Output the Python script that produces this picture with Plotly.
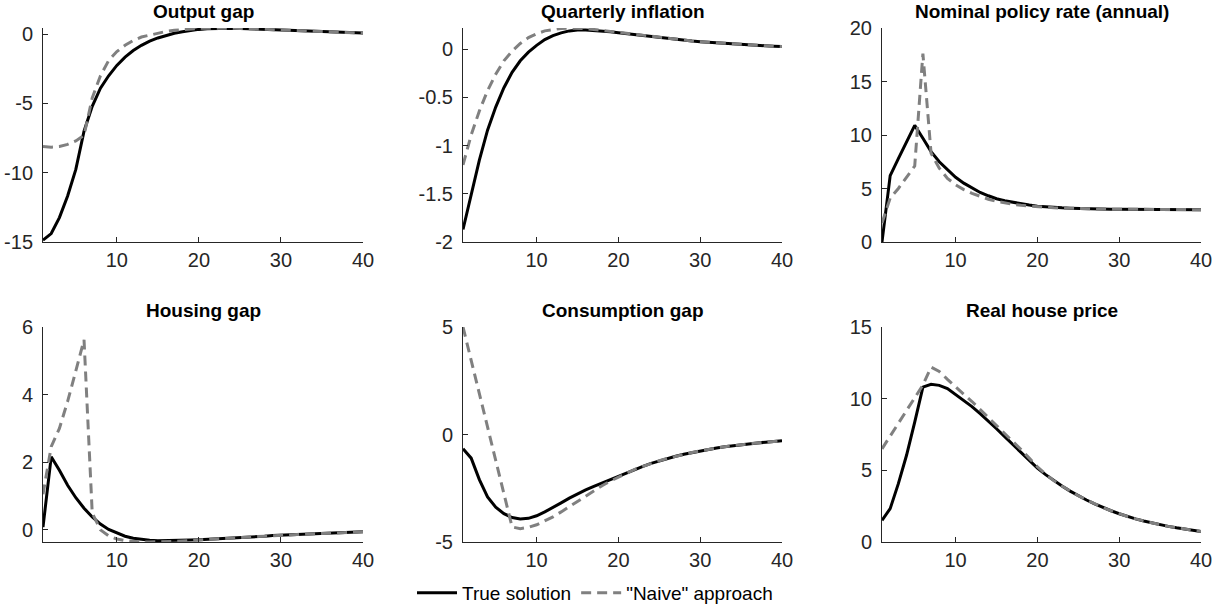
import plotly.graph_objects as go
from plotly.subplots import make_subplots

periods = list(range(1, 41))

titles = ["Output gap", "Quarterly inflation", "Nominal policy rate (annual)",
          "Housing gap", "Consumption gap", "Real house price"]

output_true = [-14.87, -14.39, -13.24, -11.68, -9.76, -7.0, -5.2, -3.9, -3.0, -2.25,
               -1.65, -1.18, -0.8, -0.5, -0.27, -0.08, 0.07, 0.18, 0.28, 0.35,
               0.40, 0.43, 0.44, 0.44, 0.42, 0.40, 0.38, 0.35, 0.33, 0.30,
               0.28, 0.25, 0.23, 0.21, 0.18, 0.16, 0.14, 0.12, 0.10, 0.08]
output_naive = [-8.1, -8.15, -8.1, -7.95, -7.7, -7.3, -4.6, -3.0, -1.9, -1.25,
                -0.8, -0.45, -0.2, -0.05, 0.1, 0.2, 0.28, 0.34, 0.39, 0.42,
                0.44, 0.45, 0.45, 0.44, 0.42, 0.40, 0.38, 0.35, 0.33, 0.30,
                0.28, 0.25, 0.23, 0.21, 0.18, 0.16, 0.14, 0.12, 0.10, 0.08]

infl_true = [-1.87, -1.51, -1.15, -0.84, -0.60, -0.40, -0.24, -0.12, -0.03, 0.04,
             0.10, 0.14, 0.17, 0.19, 0.20, 0.20, 0.195, 0.19, 0.18, 0.17,
             0.16, 0.15, 0.14, 0.13, 0.12, 0.11, 0.10, 0.093, 0.085, 0.078,
             0.072, 0.065, 0.059, 0.053, 0.048, 0.043, 0.039, 0.035, 0.031, 0.027]
infl_naive = [-1.20, -0.89, -0.64, -0.43, -0.26, -0.12, -0.02, 0.06, 0.12, 0.16,
              0.19, 0.205, 0.215, 0.22, 0.218, 0.212, 0.205, 0.195, 0.185, 0.173,
              0.16, 0.15, 0.14, 0.13, 0.12, 0.11, 0.10, 0.093, 0.085, 0.078,
              0.072, 0.065, 0.059, 0.053, 0.048, 0.043, 0.039, 0.035, 0.031, 0.027]

rate_true = [0.0, 6.2, 7.8, 9.4, 10.9, 9.7, 8.45, 7.5, 6.75, 6.05,
             5.5, 5.03, 4.63, 4.32, 4.04, 3.85, 3.7, 3.57, 3.45, 3.35,
             3.28, 3.23, 3.19, 3.16, 3.13, 3.11, 3.09, 3.08, 3.07, 3.06,
             3.05, 3.04, 3.04, 3.03, 3.03, 3.03, 3.02, 3.02, 3.02, 3.02]
rate_naive = [1.77, 4.1, 5.0, 6.0, 7.1, 17.6, 8.3, 6.9, 5.95, 5.35,
              4.9, 4.55, 4.25, 4.0, 3.8, 3.65, 3.52, 3.43, 3.36, 3.3,
              3.25, 3.2, 3.17, 3.14, 3.12, 3.1, 3.09, 3.08, 3.07, 3.06,
              3.05, 3.04, 3.04, 3.03, 3.03, 3.03, 3.02, 3.02, 3.02, 3.02]

housing_true = [0.08, 2.16, 1.76, 1.32, 0.95, 0.64, 0.38, 0.17, 0.01, -0.1,
                -0.19, -0.25, -0.29, -0.31, -0.32, -0.32, -0.32, -0.31, -0.3, -0.29,
                -0.28, -0.27, -0.26, -0.24, -0.23, -0.22, -0.2, -0.19, -0.17, -0.16,
                -0.15, -0.14, -0.13, -0.12, -0.11, -0.1, -0.09, -0.08, -0.07, -0.06]
housing_naive = [1.05, 2.46, 3.0, 3.8, 4.7, 5.62, 0.5, 0.0, -0.18, -0.27,
                 -0.32, -0.35, -0.36, -0.36, -0.36, -0.35, -0.34, -0.33, -0.31, -0.3,
                 -0.28, -0.27, -0.26, -0.24, -0.23, -0.22, -0.2, -0.19, -0.17, -0.16,
                 -0.15, -0.14, -0.13, -0.12, -0.11, -0.1, -0.09, -0.08, -0.07, -0.06]

cons_true = [-0.66, -1.1, -2.1, -2.9, -3.38, -3.68, -3.86, -3.93, -3.9, -3.78,
             -3.6, -3.4, -3.18, -2.96, -2.76, -2.58, -2.41, -2.25, -2.1, -1.96,
             -1.78, -1.62, -1.48, -1.34, -1.22, -1.11, -1.01, -0.92, -0.84, -0.76,
             -0.69, -0.63, -0.57, -0.52, -0.47, -0.43, -0.39, -0.36, -0.32, -0.29]
cons_naive = [5.0, 3.45, 1.9, 0.35, -1.2, -2.75, -4.3, -4.38, -4.32, -4.2,
              -4.03, -3.83, -3.6, -3.36, -3.1, -2.84, -2.6, -2.38, -2.17, -1.98,
              -1.78, -1.62, -1.48, -1.34, -1.22, -1.11, -1.01, -0.92, -0.84, -0.76,
              -0.69, -0.63, -0.57, -0.52, -0.47, -0.43, -0.39, -0.36, -0.32, -0.29]

hp_true = [1.51, 2.33, 4.07, 6.05, 8.37, 10.81, 11.0, 10.93, 10.7, 10.3,
           9.9, 9.45, 8.95, 8.45, 7.9, 7.35, 6.8, 6.25, 5.7, 5.15,
           4.7, 4.28, 3.9, 3.55, 3.23, 2.93, 2.66, 2.41, 2.18, 1.97,
           1.78, 1.61, 1.46, 1.32, 1.2, 1.09, 0.99, 0.9, 0.81, 0.73]
hp_naive = [6.5, 7.4, 8.3, 9.2, 10.05, 10.95, 12.2, 11.9, 11.35, 10.8,
            10.3, 9.8, 9.25, 8.7, 8.15, 7.6, 7.05, 6.45, 5.85, 5.25,
            4.73, 4.28, 3.9, 3.55, 3.23, 2.93, 2.66, 2.41, 2.18, 1.97,
            1.78, 1.61, 1.46, 1.32, 1.2, 1.09, 0.99, 0.9, 0.81, 0.73]

true_series = [output_true, infl_true, rate_true, housing_true, cons_true, hp_true]
naive_series = [output_naive, infl_naive, rate_naive, housing_naive, cons_naive, hp_naive]

y_ranges = [[-15, 0.45], [-2, 0.22], [0, 20], [-0.36, 6], [-5, 5], [0, 15]]
y_tickvals = [[-15, -10, -5, 0], [-2, -1.5, -1, -0.5, 0], [0, 5, 10, 15, 20],
              [0, 2, 4, 6], [-5, 0, 5], [0, 5, 10, 15]]
y_ticktext = [["-15", "-10", "-5", "0"], ["-2", "-1.5", "-1", "-0.5", "0"],
              ["0", "5", "10", "15", "20"], ["0", "2", "4", "6"],
              ["-5", "0", "5"], ["0", "5", "10", "15"]]
x_tickvals = [10, 20, 30, 40]
x_ticktext = ["10", "20", "30", "40"]

W, H = 1225, 606
col_px = [(43, 363), (463, 782), (882, 1201)]
row_px = [(28, 242), (327, 542)]

fig = make_subplots(rows=2, cols=3)

axis_color = "#262626"
tick_font = dict(family="Liberation Sans, Arial", size=20, color=axis_color)
for i in range(6):
    r, c = i // 3, i % 3
    show = (i == 0)
    fig.add_trace(go.Scatter(x=periods, y=true_series[i], mode="lines",
                             line=dict(color="black", width=3),
                             name="True solution", showlegend=show,
                             legendgroup="true"), row=r + 1, col=c + 1)
    fig.add_trace(go.Scatter(x=periods, y=naive_series[i], mode="lines",
                             line=dict(color="#808080", width=3, dash="10px,6px"),
                             name='"Naive" approach', showlegend=show,
                             legendgroup="naive"), row=r + 1, col=c + 1)
    x0, x1 = col_px[c]
    y0, y1 = row_px[r]
    xd = [x0 / W, x1 / W]
    yd = [1 - y1 / H, 1 - y0 / H]
    fig.update_xaxes(domain=xd, range=[1, 40], tickvals=x_tickvals, ticktext=x_ticktext,
                     showline=True, linecolor=axis_color, linewidth=1,
                     ticks="inside", ticklen=5, tickcolor=axis_color,
                     showgrid=False, zeroline=False, automargin=False,
                     tickfont=tick_font, row=r + 1, col=c + 1)
    fig.update_yaxes(domain=yd, range=y_ranges[i], tickvals=y_tickvals[i],
                     ticktext=y_ticktext[i],
                     showline=True, linecolor=axis_color, linewidth=1,
                     ticks="inside", ticklen=5, tickcolor=axis_color,
                     showgrid=False, zeroline=False, automargin=False,
                     ticklabelstandoff=5,
                     tickfont=tick_font, row=r + 1, col=c + 1)
    fig.add_annotation(text="<b>" + titles[i] + "</b>", xref="paper", yref="paper",
                       x=(x0 + x1) / 2 / W, y=1 - (11 if r == 0 else 310) / H,
                       xanchor="center", yanchor="middle", showarrow=False,
                       font=dict(family="Liberation Sans, Arial", size=19, color="black"))

fig.update_layout(
    width=W, height=H,
    margin=dict(l=0, r=0, t=0, b=0, autoexpand=False),
    paper_bgcolor="white", plot_bgcolor="white",
    showlegend=True,
    legend=dict(orientation="h", x=595 / W, y=1 - 593 / H, xanchor="center",
                yanchor="middle", bgcolor="rgba(0,0,0,0)",
                font=dict(family="Liberation Sans, Arial", size=19, color="black"),
                itemwidth=40, tracegroupgap=0),
)

fig.write_html("out.html")
